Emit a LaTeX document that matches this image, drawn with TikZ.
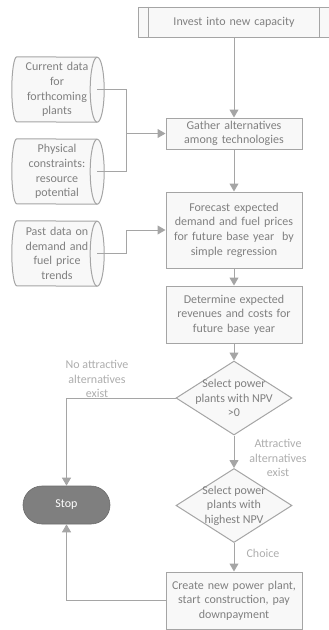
\documentclass[tikz,border=0pt]{standalone}
\usepackage{fontspec}
\setmainfont{Carlito}
\usetikzlibrary{shapes.geometric}
\usetikzlibrary{arrows.meta}
\usetikzlibrary{calc}
\usetikzlibrary{backgrounds}

\definecolor{linegray}{HTML}{A5A5A5}
\definecolor{textgray}{HTML}{808080}
\definecolor{notegray}{HTML}{ADADAD}
\definecolor{boxfill}{HTML}{F8F8F8}
\definecolor{stopfill}{HTML}{7F7F7F}

\tikzset{
	wire/.style={draw=linegray,line width=1pt},
	flow/.style={wire,-{Triangle[length=8pt,width=9pt]}},
	txt/.style={font=\fontsize{12}{14.6}\selectfont,align=center},
	procbox/.style={txt,rectangle,draw=linegray,line width=1pt,fill=boxfill,text=textgray,minimum width=136pt,text width=132pt,inner sep=2pt},
	decision/.style={diamond,draw=linegray,line width=1pt,fill=boxfill,minimum width=116pt,minimum height=74pt,inner sep=0pt},
	datastore/.style={txt,rectangle,text=textgray,minimum width=80pt,minimum height=65pt,text width=80pt,inner sep=0pt},
	note/.style={txt,text=notegray},
}

\begin{document}
\begin{tikzpicture}[x=1pt,y=-1pt]
	\useasboundingbox (0,0) rectangle (329,630);
	\node[procbox,minimum width=192pt,minimum height=30pt] (invest) at (234,22) {Invest into new capacity};
	\node[procbox,minimum height=31pt] (gather) at (234,133.5) {Gather alternatives\\among technologies};
	\node[procbox,minimum height=76pt] (forecast) at (234,230) {Forecast expected\\demand and fuel prices\\for future base year\ \ by\\simple regression};
	\node[procbox,minimum height=57pt] (determine) at (234,314.5) {Determine expected\\revenues and costs for\\future base year};
	\node[decision,label={[txt,text=textgray]center:Select power\\plants with NPV\\>0}] (npv) at (234,398) {};
	\node[decision,label={[txt,text=textgray]center:Select power\\plants with\\highest NPV}] (best) at (234,505.5) {};
	\node[procbox,minimum height=57pt] (create) at (234,600.5) {Create new power plant,\\start construction, pay\\downpayment};
	\node[txt,rectangle,draw=stopfill!85!black,line width=0.6pt,fill=stopfill,text=white,minimum width=87pt,minimum height=38pt,rounded corners=19pt] (stop) at (66.5,505) {Stop};

	\node[datastore] (current) at (57,89.5) {Current data\\for\\forthcoming\\plants};
	\node[datastore] (physical) at (57,171.5) {Physical\\constraints:\\resource\\potential};
	\node[datastore] (past) at (57,253.5) {Past data on\\demand and\\fuel price\\trends};
	\begin{scope}[on background layer]
	\foreach \n in {current,physical,past} {
		\filldraw[wire,fill=boxfill] (\n.north west) arc[start angle=90,end angle=270,x radius=5pt,y radius=32.5pt]
			-- (\n.south east) arc[start angle=-90,end angle=90,x radius=7pt,y radius=32.5pt] -- cycle;
		\draw[wire] (\n.south east) arc[start angle=270,end angle=90,x radius=7pt,y radius=32.5pt];
	}
	\end{scope}

	\draw[wire] ($(invest.north west)+(11,0)$) -- ($(invest.south west)+(11,0)$);
	\draw[wire] ($(invest.north east)+(-11,0)$) -- ($(invest.south east)+(-11,0)$);

	\node[note] (nogo) at (97,379) {No attractive\\alternatives\\exist};
	\node[note] (go) at (278,458) {Attractive\\alternatives\\exist};
	\node[note] (choice) at (263,553) {Choice};

	\coordinate (j1) at (126,133.5);
	\coordinate (j2) at (126,230);
	\draw[wire] (current.east) -| (j1);
	\draw[wire] (physical.east) -| (j1);
	\draw[flow] (j1) -- (gather.west);
	\draw[wire] (past.east) -| (j2);
	\draw[flow] (j2) -- (forecast.west);

	\draw[flow] (invest) -- (gather);
	\draw[flow] (gather) -- (forecast);
	\draw[flow] (forecast) -- (determine);
	\draw[flow] (determine) -- (npv);
	\draw[flow] (npv) -- (best);
	\draw[flow] (best) -- (create);
	\draw[flow] (npv.west) -| (stop.north);
	\draw[flow] (create.west) -| (stop.south);
\end{tikzpicture}
\end{document}
